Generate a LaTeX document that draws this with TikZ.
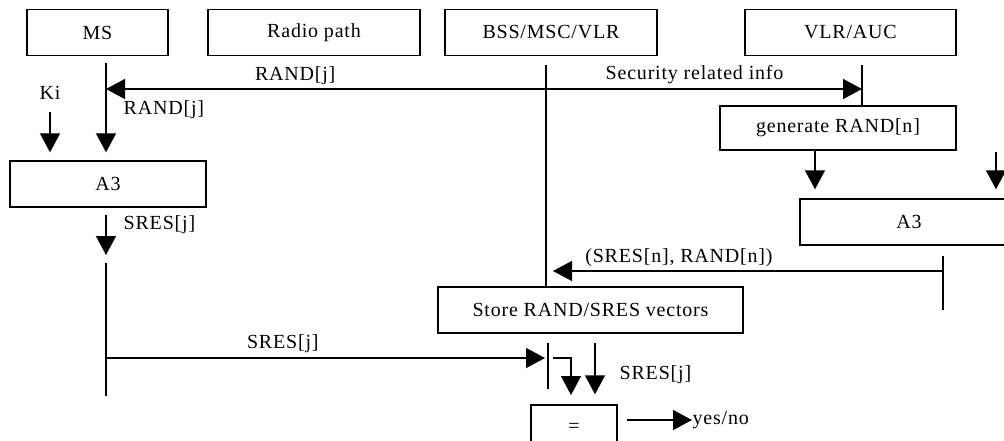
\documentclass[tikz,border=0pt]{standalone}
\usepackage{fontspec}
\setmainfont{Liberation Serif}[LetterSpace=4]
\usepackage{tikz}
\usetikzlibrary{arrows.meta, positioning}
\newcommand{\lblfont}{\fontsize{20}{23}\selectfont}
\tikzset{
  box/.style={rectangle, draw, line width=1.4pt, minimum height=46pt,
    inner sep=0pt, font=\lblfont},
  arrow/.style={-{Triangle[length=19pt,width=20pt]}, line width=1.4pt},
  line/.style={line width=1.4pt},
  lbl/.style={inner sep=0pt, font=\lblfont}
}

\begin{document}
\begin{tikzpicture}[x=1pt, y=-1pt]
  \useasboundingbox (0,0) rectangle (1004,441);
  \clip (0,0) rectangle (1004,441);
  \node[box, minimum width=141pt] (ms) at (97.5,32.5) {MS};
  \node[box, minimum width=212pt] (radio) at (314,32.5) {Radio path};
  \node[box, minimum width=212pt] (bss) at (551,32.5) {BSS/MSC/VLR};
  \node[box, minimum width=211pt] (vlr) at (850.5,32.5) {VLR/AUC};
  \node[box, minimum width=236pt, minimum height=44pt] (gen) at (838,128) {generate RAND[n]};
  \node[box, minimum width=218pt] (a3r) at (909,222) {A3};
  \node[box, minimum width=196pt] (a3l) at (108,184) {A3};
  \node[box, minimum width=305pt] (store) at (590.5,310) {Store RAND/SRES vectors};
  \node[box, minimum width=86pt] (eq) at (574,428) {=};

  \coordinate (ki) at (50,112);
  \coordinate (msl) at (106,63);
  \coordinate (bssl) at (546,65);
  \coordinate (vlrl) at (862,65);
  \coordinate (req) at (546,89);
  \coordinate (gout) at (815,150);
  \coordinate (kin) at (996,152);
  \coordinate (rbar) at (943,256);
  \coordinate (resp) at (943,271);
  \coordinate (mss) at (106,263);
  \coordinate (msb) at (106,396);
  \coordinate (sj) at (106,358);
  \coordinate (cmp) at (548,343);
  \coordinate (eqin) at (571,405);
  \coordinate (vecin) at (595,343);
  \coordinate (yn) at (627,420);

  \draw[arrow, shorten >=8pt] (ki) node[lbl, above=12pt] (kitxt) {Ki} -- (ki |- a3l.north);
  \draw[arrow, shorten >=8pt] (msl) -- (msl |- a3l.north)
    node[lbl, pos=0.48, right=17pt] (randb) {RAND[j]};
  \draw[arrow] (req) -- (req -| msl) node[lbl, pos=0.57, above=4pt] (randa) {RAND[j]};
  \draw[arrow] (req) -- (req -| vlrl) node[lbl, pos=0.47, above=4pt] (sec) {Security related info};
  \draw[line] (vlrl) -- (vlrl |- gen.north);
  \draw[line] (bssl) -- (bssl |- store.north);

  \draw[arrow, shorten >=9pt] (gout) -- (gout |- a3r.north);
  \draw[arrow, shorten >=9pt] (kin) -- (kin |- a3r.north);
  \draw[line] (rbar) -- ++(0,54);
  \draw[arrow, shorten >=7pt] (resp) -- (resp -| bssl)
    node[lbl, pos=0.665, above=4pt] (pair) {(SRES[n], RAND[n])};

  \draw[arrow, shorten <=7pt, shorten >=8pt] (a3l.south -| msl) -- (mss)
    node[lbl, pos=0.3, right=17pt] (sresa) {SRES[j]};
  \draw[line] (mss) -- (msb);
  \draw[arrow, shorten >=3pt] (sj) -- (sj -| cmp) node[lbl, pos=0.4, above=5pt] (sresb) {SRES[j]};
  \draw[line] (cmp) -- ++(0,46);
  \draw[arrow, shorten >=10pt] ([xshift=5pt]sj -| cmp) -| (eqin);
  \draw[arrow, shorten >=10pt] (vecin) -- (vecin |- eq.north)
    node[lbl, pos=0.52, right=24pt] (sresc) {SRES[j]};
  \draw[arrow] (yn) -- ++(65,0) node[lbl, right=0pt] (res) {yes/no};
\end{tikzpicture}
\end{document}
